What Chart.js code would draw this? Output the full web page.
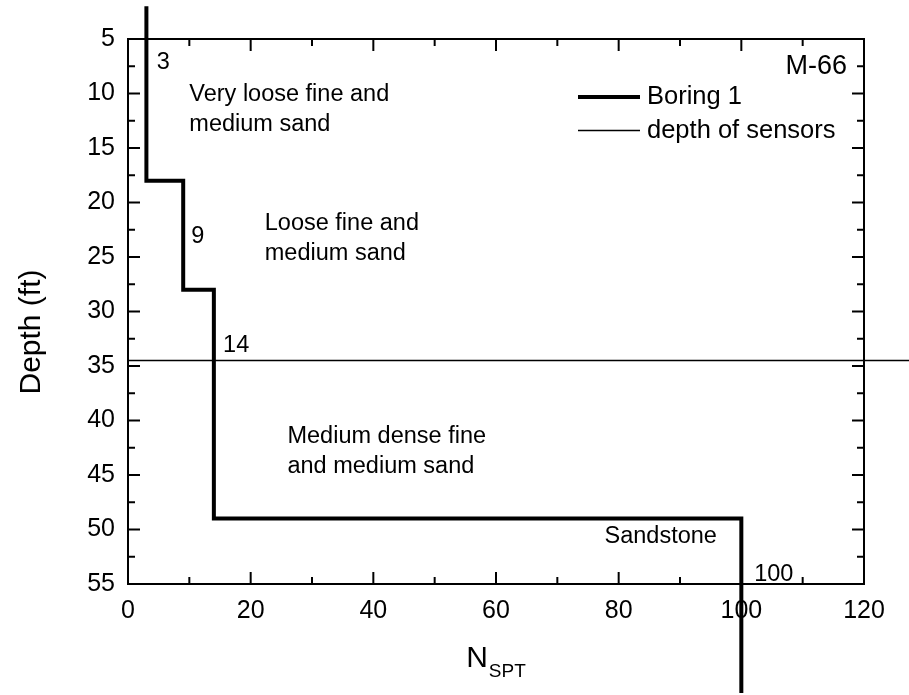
<!DOCTYPE html>
<html>
<head>
<meta charset="utf-8">
<title>Boring log M-66</title>
<script src="https://cdn.jsdelivr.net/npm/chart.js@4.4.1/dist/chart.umd.min.js"></script>
<style>
  html, body { margin: 0; padding: 0; background: #fff; }
  canvas { display: block; }
</style>
</head>
<body>
<canvas id="myChart" width="909" height="695"></canvas>
<script>
// SPT blow count of each soil layer, top to bottom
const nSpt = [3, 9, 14, 100];
// depth (ft) at which each layer starts
const layerTops = [2, 18, 28, 49];
const boringEnd = 65;

// sensors sit at a single depth
const sensorDepth = 34.5;
const sensorFrom = 0;
const sensorTo = 128;

const layerNames = [
  ["Very loose fine and", "medium sand"],
  ["Loose fine and", "medium sand"],
  ["Medium dense fine", "and medium sand"],
  ["Sandstone"],
];
const siteName = "M-66";

const xTicks = [0, 20, 40, 60, 80, 100, 120];
const yTicks = [5, 10, 15, 20, 25, 30, 35, 40, 45, 50, 55];

const FONT = "'Liberation Sans', Arial, Helvetica, sans-serif";

let myChart;

function font(size) {
  return size + "px " + FONT;
}

// turn the layer table into a stepped N vs depth profile
function buildProfile() {
  const pts = [];
  for (let i = 0; i < nSpt.length; i++) {
    const bottom = i + 1 < layerTops.length ? layerTops[i + 1] : boringEnd;
    pts.push({ x: nSpt[i], y: layerTops[i] });
    pts.push({ x: nSpt[i], y: bottom });
  }
  return pts;
}

// halfway points between major ticks
function minorTicks(major) {
  const out = [];
  for (let i = 0; i < major.length - 1; i++) {
    out.push((major[i] + major[i + 1]) / 2);
  }
  return out;
}

function line(ctx, x1, y1, x2, y2) {
  ctx.beginPath();
  ctx.moveTo(x1, y1);
  ctx.lineTo(x2, y2);
  ctx.stroke();
}

// box round the plot with inward ticks on all four sides
function drawFrame(chart) {
  const ctx = chart.ctx;
  const { left, right, top, bottom } = chart.chartArea;
  const xs = chart.scales.x;
  const ys = chart.scales.y;

  ctx.save();
  ctx.strokeStyle = "#000";
  ctx.lineWidth = 2;
  ctx.strokeRect(left, top, right - left, bottom - top);

  const marks = (values, len) => {
    for (const v of values) {
      const px = xs.getPixelForValue(v);
      line(ctx, px, bottom, px, bottom - len);
      line(ctx, px, top, px, top + len);
    }
  };
  marks(xTicks, 12);
  marks(minorTicks(xTicks), 7);

  const yMarks = (values, len) => {
    for (const v of values) {
      const py = ys.getPixelForValue(v);
      line(ctx, left, py, left + len, py);
      line(ctx, right, py, right - len, py);
    }
  };
  yMarks(yTicks, 12);
  yMarks(minorTicks(yTicks), 7);
  ctx.restore();
}

// layer descriptions, blow counts, legend and axis titles
function drawNotes(chart) {
  const ctx = chart.ctx;
  const xs = chart.scales.x;
  const ys = chart.scales.y;
  const area = chart.chartArea;

  ctx.save();
  ctx.fillStyle = "#000";
  ctx.textBaseline = "middle";
  ctx.textAlign = "left";

  // blow count next to each layer (N, depth)
  const countAt = [[4.7, 7.2], [10.3, 23.1], [15.5, 33.1], [102.1, 54.1]];
  ctx.font = font(23.5);
  nSpt.forEach((n, i) => {
    ctx.fillText(String(n), xs.getPixelForValue(countAt[i][0]), ys.getPixelForValue(countAt[i][1]));
  });

  // layer descriptions
  const nameAt = [[10.0, 10.1], [22.3, 21.9], [26.0, 41.5], [77.7, 50.6]];
  layerNames.forEach((rows, i) => {
    const px = xs.getPixelForValue(nameAt[i][0]);
    const py = ys.getPixelForValue(nameAt[i][1]);
    rows.forEach((txt, r) => ctx.fillText(txt, px, py + r * 30));
  });

  // site name, top right
  ctx.font = font(27);
  ctx.textAlign = "right";
  ctx.fillText(siteName, area.right - 17, 67);

  // legend
  ctx.textAlign = "left";
  ctx.font = font(25.5);
  ctx.strokeStyle = "#000";
  chart.data.datasets.forEach((ds, i) => {
    const ly = 97 + i * 33.5;
    ctx.lineWidth = ds.borderWidth;
    line(ctx, 578, ly, 640, ly);
    ctx.fillText(ds.label, 647, ly);
  });

  // y title
  ctx.save();
  ctx.translate(40, 332);
  ctx.rotate(-Math.PI / 2);
  ctx.textAlign = "center";
  ctx.textBaseline = "alphabetic";
  ctx.font = font(30);
  ctx.fillText("Depth (ft)", 0, 0);
  ctx.restore();

  // x title with subscript
  ctx.textBaseline = "alphabetic";
  ctx.font = font(30);
  const wN = ctx.measureText("N").width;
  ctx.font = font(19);
  const wSub = ctx.measureText("SPT").width;
  const startX = (area.left + area.right) / 2 - (wN + 1 + wSub) / 2;
  ctx.font = font(30);
  ctx.fillText("N", startX, 667);
  ctx.font = font(19);
  ctx.fillText("SPT", startX + wN + 1, 677);

  ctx.restore();
}

const frameAndNotes = {
  id: "frameAndNotes",
  beforeDatasetsDraw(chart) {
    drawFrame(chart);
  },
  afterDraw(chart) {
    drawNotes(chart);
  },
};

function createGraph() {
  const ctx = document.getElementById("myChart").getContext("2d");

  myChart = new Chart(ctx, {
    type: "scatter",
    data: {
      datasets: [
        {
          label: "Boring 1",
          data: buildProfile(),
          showLine: true,
          borderColor: "#000",
          borderWidth: 4,
          borderJoinStyle: "miter",
          pointRadius: 0,
          tension: 0,
          clip: false,
        },
        {
          label: "depth of sensors",
          data: [
            { x: sensorFrom, y: sensorDepth },
            { x: sensorTo, y: sensorDepth },
          ],
          showLine: true,
          borderColor: "#000",
          borderWidth: 1.5,
          pointRadius: 0,
          clip: false,
        },
      ],
    },
    options: {
      responsive: false,
      animation: false,
      events: [],
      layout: {
        padding: { top: 39, right: 45, left: 0, bottom: 0 },
      },
      plugins: {
        legend: { display: false },
        tooltip: { enabled: false },
      },
      scales: {
        x: {
          type: "linear",
          min: 0,
          max: 120,
          grid: { display: false, drawTicks: false },
          border: { display: false },
          afterBuildTicks: (scale) => {
            scale.ticks = xTicks.map((v) => ({ value: v }));
          },
          afterFit: (scale) => {
            scale.height = 111;
          },
          ticks: {
            autoSkip: false,
            maxRotation: 0,
            padding: 12,
            color: "#000",
            font: { family: FONT, size: 25 },
          },
        },
        y: {
          type: "linear",
          reverse: true,
          min: 5,
          max: 55,
          grid: { display: false, drawTicks: false },
          border: { display: false },
          afterBuildTicks: (scale) => {
            scale.ticks = yTicks.map((v) => ({ value: v }));
          },
          afterFit: (scale) => {
            scale.width = 128;
          },
          ticks: {
            autoSkip: false,
            padding: 13,
            color: "#000",
            font: { family: FONT, size: 25 },
          },
        },
      },
    },
    plugins: [frameAndNotes],
  });
}

createGraph();
</script>
</body>
</html>
